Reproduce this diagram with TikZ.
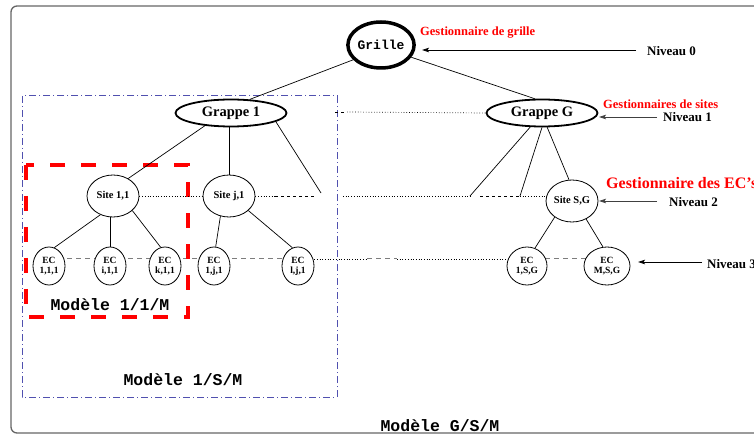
\documentclass[tikz,border=0pt]{standalone}
\usepackage{fontspec}
\setmainfont{Liberation Serif}
\setmonofont{Liberation Mono}
\usetikzlibrary{shapes.geometric,arrows.meta,backgrounds,calc}
\definecolor{modblue}{RGB}{80,80,175}
\definecolor{linkgray}{RGB}{125,125,125}
\begin{document}
\begin{tikzpicture}[x=1pt,y=-1pt,
  base/.style={draw,ellipse,inner sep=0pt,fill=white},
  gridnode/.style={base,line width=3.5pt,minimum width=66pt,minimum height=46pt,font=\ttfamily\bfseries\fontsize{13}{14}\selectfont},
  clusternode/.style={base,line width=1.8pt,minimum width=111pt,minimum height=27pt,font=\bfseries\fontsize{14.5}{16}\selectfont},
  sitenode/.style={base,line width=0.8pt,minimum width=52pt,minimum height=42pt,font=\bfseries\fontsize{10.5}{12}\selectfont},
  ecnode/.style={base,line width=0.8pt,minimum width=32pt,minimum height=38pt,align=center,font=\bfseries\fontsize{9.5}{10}\selectfont},
  redlabel/.style={anchor=west,text=red,inner sep=0pt,font=\bfseries\fontsize{12.5}{14}\selectfont},
  levellabel/.style={anchor=west,inner sep=0pt,font=\bfseries\fontsize{13}{14}\selectfont},
  modellabel/.style={inner sep=0pt,font=\ttfamily\bfseries\fontsize{16.5}{18}\selectfont},
  tree/.style={line width=0.7pt},
  dotline/.style={dotted,line width=0.7pt},
  dashline/.style={dashed,line width=0.7pt},
  eclink/.style={dash pattern=on 5pt off 4pt,line width=1pt,draw=linkgray},
  arr/.style={-{Stealth[length=7pt,width=4.5pt,inset=1.5pt]},line width=0.8pt},
]
\useasboundingbox (0,0) rectangle (754,435);
\clip (0,0) rectangle (754,435);

% outer frame
\draw[line width=1.3pt,draw=black!60,rounded corners=6pt] (11,6) rectangle (780,433);

% model boxes
\draw[modblue,line width=1pt,dash pattern=on 7pt off 3pt on 1pt off 3pt] (22,96) rectangle (337,397);
\draw[red,line width=4pt,dash pattern=on 15pt off 16pt] (26,165) rectangle (188,317);

% nodes
\node[gridnode] (grille) at (381,45) {Grille};
\node[clusternode] (g1) at (231,113) {Grappe 1};
\node[clusternode] (gG) at (542,113) {Grappe G};
\node[sitenode] (s11) at (113,196) {Site 1,1};
\node[sitenode] (sj1) at (229,196) {Site j,1};
\node[sitenode] (sSG) at (572,201) {Site S,G};
\node[ecnode] (e111) at (49,266) {EC\\1,1,1};
\node[ecnode] (ei11) at (110,266) {EC\\i,1,1};
\node[ecnode] (ek11) at (165,266) {EC\\k,1,1};
\node[ecnode] (e1j1) at (214,266) {EC\\1,j,1};
\node[ecnode] (elj1) at (298,266) {EC\\l,j,1};
\node[ecnode,minimum width=40pt] (e1SG) at (527,266) {EC\\1,S,G};
\node[ecnode,minimum width=46pt] (eMSG) at (607,266) {EC\\M,S,G};

% free ends
\coordinate (g1end) at (321,193);
\coordinate (gGa) at (470,196);
\coordinate (gGb) at (520,196);
\coordinate (sjA) at (275,196);
\coordinate (sjB) at (316,196);
\coordinate (midA) at (343,196);
\coordinate (midB) at (480,196);
\coordinate (ecA) at (367,259);
\coordinate (ecB) at (397,259);
\coordinate (grA) at (335,112);
\coordinate (grB) at (347,112);

% tree connectors
\draw[tree] (grille.208) -- (g1.36);
\draw[tree] (grille.338) -- (gG.117);
\draw[tree] (g1.206) -- (s11.49);
\draw[tree] (sj1.north) -- (sj1.north |- g1.south);
\draw[tree] (g1.349) -- (g1end);
\draw[tree] (gG.230) -- (gGa);
\draw[tree] (gG.south) -- (gGb);
\draw[tree] (gG.290) -- (sSG.98);
\draw[tree] (s11.236) -- (e111.74);
\draw[tree] (ei11.north) -- (ei11.north |- s11.south);
\draw[tree] (s11.323) -- (ek11.103);
\draw[tree] (sj1.247) -- (e1j1.85);
\draw[tree] (sj1.323) -- (elj1.107);
\draw[tree] (sSG.223) -- (e1SG.66);
\draw[tree] (sSG.308) -- (eMSG.102);

% horizontal links
\draw[dashline] (grA) -- (grB);
\draw[dotline] (grB) -- (gG.west);
\draw[dotline] (s11.east) -- (sj1.west);
\draw[dotline] (sj1.east) -- (sjA);
\draw[dashline] (sjA) -- (sjB);
\draw[dotline] (midA) -- (gGa);
\draw[dashline] (midB) -- (gGb);
\draw[dotline] (gGb) -- (sSG.west |- gGb);

\begin{scope}[on background layer]
\draw[eclink] ([yshift=7pt]e111.center) -- ([yshift=7pt]ei11.center);
\draw[eclink] ([yshift=7pt]ei11.center) -- ([yshift=7pt]ek11.center);
\draw[eclink] ([yshift=7pt]ek11.center) -- ([yshift=7pt]e1j1.center);
\draw[eclink] ([yshift=7pt]e1j1.center) -- ([yshift=7pt]elj1.center);
\draw[dotline] ([yshift=7pt]elj1.center) -- (ecA);
\draw[eclink] (ecA) -- (ecB);
\draw[dotline] (ecB) -- ([yshift=7pt]e1SG.center);
\draw[eclink] ([yshift=7pt]e1SG.center) -- ([yshift=7pt]eMSG.center);
\end{scope}

% labels
\node[redlabel] (lgr) at (420,33) {Gestionnaire de grille};
\node[redlabel] (lsi) at (603,104) {Gestionnaires de sites};
\node[redlabel,font=\bfseries\fontsize{16}{18}\selectfont] (lec) at (606,183) {Gestionnaire des EC's};

\node[levellabel] (n0) at (647,51) {Niveau 0};
\node[levellabel] (n1) at (663,117) {Niveau 1};
\node[levellabel] (n2) at (669,202) {Niveau 2};
\node[levellabel] (n3) at (707,264) {Niveau 3};

\coordinate (a0) at (422,50);
\coordinate (a1) at (599,117);
\coordinate (a2) at (599,201);
\coordinate (a3) at (638,262);
\coordinate (b0) at (636,50);
\coordinate (b1) at (657,117);
\coordinate (b2) at (657,201);
\coordinate (b3) at (702,262);
\draw[arr] (b0) -- (a0);
\draw[arr,draw=black!75] (b1) -- (a1);
\draw[arr,draw=black!75] (b2) -- (a2);
\draw[arr] (b3) -- (a3);

\node[modellabel,anchor=base] (m11) at (110,310) {Modèle 1/1/M};
\node[modellabel,anchor=base] (m1s) at (183,385) {Modèle 1/S/M};
\node[modellabel,anchor=base] (mgs) at (440,431) {Modèle G/S/M};
\end{tikzpicture}
\end{document}
